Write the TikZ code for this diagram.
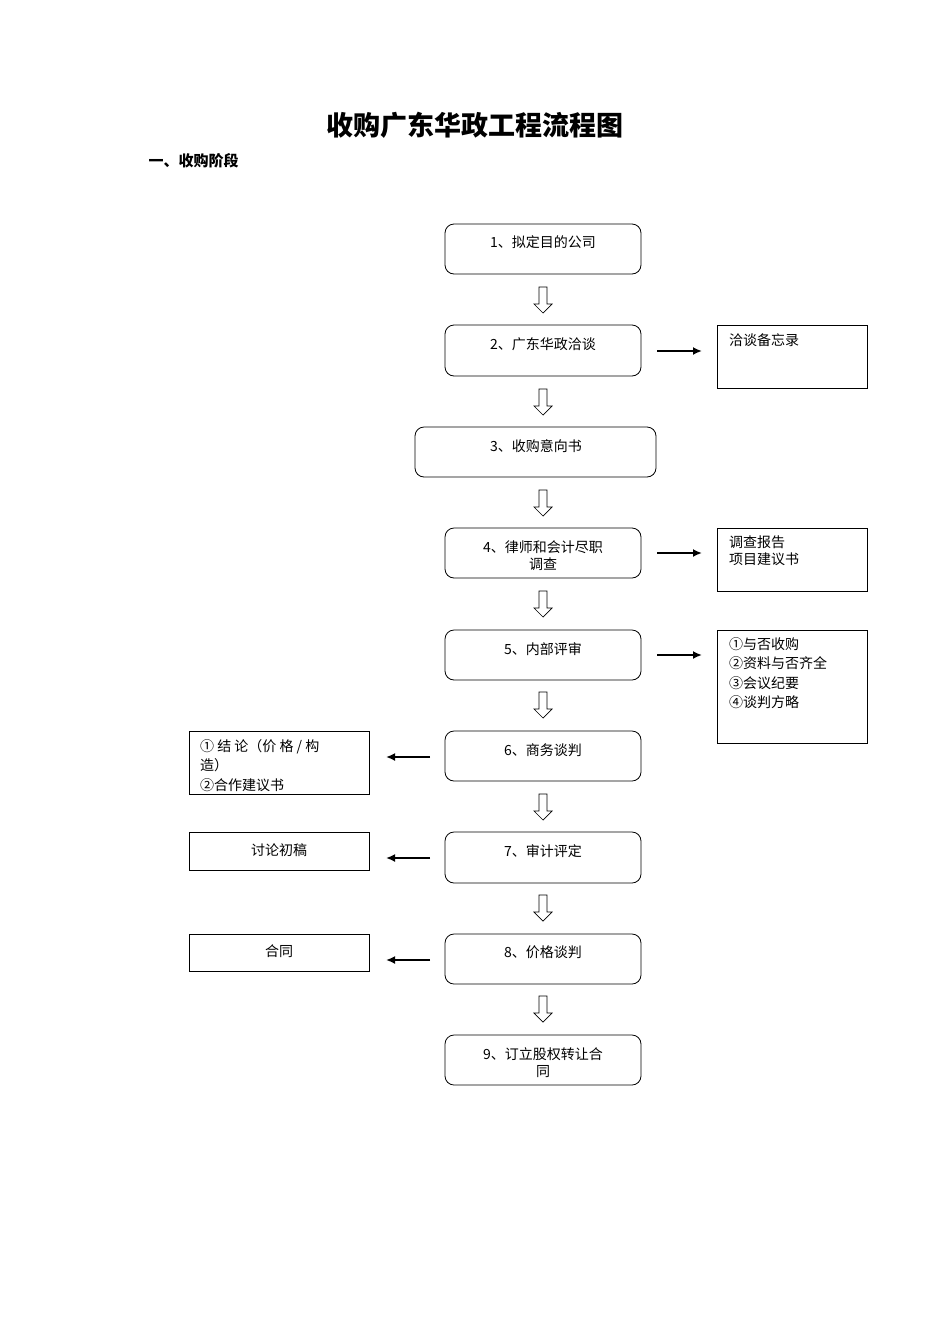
\documentclass[tikz,border=0pt]{standalone}
\usepackage{fontspec}
\newfontfamily\cjk{Noto Sans CJK SC}
\tikzset{
 mb/.style={draw,rounded corners=9pt,line width=0.8pt},
 sb/.style={draw,line width=0.8pt},
 tx/.style={font=\cjk\fontsize{14}{17}\selectfont,inner sep=0pt},
 sarr/.style={-{Latex[length=9pt,width=8pt]},line width=2.2pt},
}
\usetikzlibrary{arrows.meta}
\newcommand{\hollowdown}[2]{\draw[line width=0.7pt] (#1-4,#2) -- (#1+4,#2) -- (#1+4,#2+17) -- (#1+9,#2+17) -- (#1,#2+26) -- (#1-9,#2+17) -- (#1-4,#2+17) -- cycle;}
\begin{document}
\begin{tikzpicture}[x=1pt,y=-1pt]
\useasboundingbox[fill=white] (0,0) rectangle (950,1344);
\node[font=\cjk\bfseries\fontsize{27}{30}\selectfont] (title) at (475,125) {收购广东华政工程流程图};
\node[font=\cjk\bfseries\fontsize{15}{18}\selectfont,anchor=west] (sec) at (145,161) {一、收购阶段};
% main boxes
\foreach \n/\a/\b/\yt/\yb in {b1/445/641/224/274,b2/445/641/325/376,b3/415/656/427/477,b4/445/641/528/578,b5/445/641/630/680,b6/445/641/731/781,b7/445/641/832/883,b8/445/641/934/984,b9/445/641/1035/1085}
 \draw[mb] (\a,\yt) rectangle (\b,\yb) coordinate (\n);
\node[tx] (t1) at (543,242) {1、拟定目的公司};
\node[tx] (t2) at (543,344) {2、广东华政洽谈};
\node[tx] (t3) at (536,446) {3、收购意向书};
\node[tx,align=center] (t4) at (543,556) {4、律师和会计尽职\\调查};
\node[tx] (t5) at (543,649) {5、内部评审};
\node[tx] (t6) at (543,750) {6、商务谈判};
\node[tx] (t7) at (543,851) {7、审计评定};
\node[tx] (t8) at (543,952) {8、价格谈判};
\node[tx,align=center] (t9) at (543,1063) {9、订立股权转让合\\同};
\foreach \y in {287,389,490,591,692,794,895,996} \hollowdown{543}{\y}
% right boxes
\draw[sb] (717,325) rectangle (867,388);
\draw[sb] (717,528) rectangle (867,591);
\draw[sb] (717,630) rectangle (867,743);
\node[tx,anchor=north west] (r1) at (729,333) {洽谈备忘录};
\node[tx,anchor=north west,align=left] (r2) at (729,536) {调查报告\\项目建议书};
\node[tx,anchor=north west,align=left,font=\cjk\fontsize{14}{19.5}\selectfont] (r3) at (729,637) {①与否收购\\②资料与否齐全\\③会议纪要\\④谈判方略};
\foreach \y in {351,553,655} \draw[sarr] (657,\y) -- (702,\y);
% left boxes
\draw[sb] (189,731) rectangle (369,794);
\draw[sb] (189,832) rectangle (369,870);
\draw[sb] (189,934) rectangle (369,971);
\node[tx,anchor=north west,align=left,font=\cjk\fontsize{14}{19.5}\selectfont] (l1) at (200,739) {① 结 论（价 格 / 构\\造）\\②合作建议书};
\node[tx] (l2) at (279,850) {讨论初稿};
\node[tx] (l3) at (279,951) {合同};
\foreach \y in {757,858,960} \draw[sarr] (430,\y) -- (386,\y);
\end{tikzpicture}
\end{document}
